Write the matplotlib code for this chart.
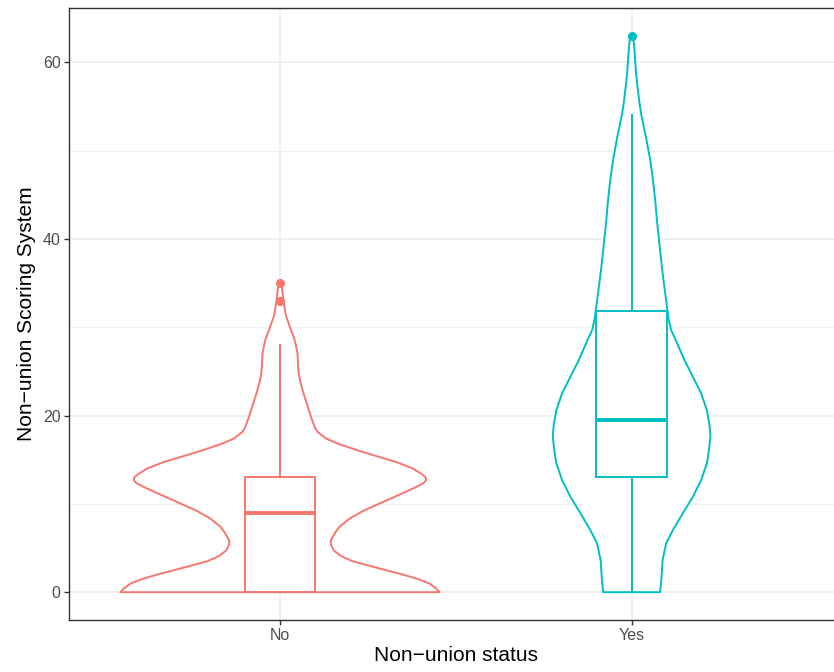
import matplotlib
matplotlib.use("Agg")
import matplotlib.pyplot as plt

plt.rcParams['font.family'] = ['Liberation Sans', 'DejaVu Sans']

groups = ['No', 'Yes']
colors = ['#F8766D', '#00BFC4']

# violin outlines: score levels and half-widths (x units)
no_y = [0, 0.42, 0.98, 1.43, 2.0, 2.49, 2.98, 3.5, 4.08, 4.75, 5.2, 5.58, 5.9,
        6.26, 6.8, 7.4, 8.34, 9.2, 10.04, 10.87, 11.74, 12.05, 12.3, 12.55,
        12.75, 13.0, 13.3, 13.6, 14.0, 14.75, 15.3, 16.0, 16.75, 17.1, 17.4,
        17.8, 18.15, 18.6, 19.1, 20.0, 21.0, 22.0, 22.9, 23.8, 24.8, 26.0, 27.0,
        28.0, 28.8, 29.8, 30.5, 31.3, 32.2, 33.0, 34.0, 35.0]
no_hw = [0.454, 0.444, 0.425, 0.397, 0.349, 0.302, 0.255, 0.207, 0.174, 0.152,
         0.147, 0.144, 0.145, 0.15, 0.158, 0.169, 0.198, 0.236, 0.283, 0.33,
         0.378, 0.394, 0.406, 0.413, 0.416, 0.414, 0.406, 0.394, 0.378, 0.33,
         0.283, 0.226, 0.169, 0.148, 0.131, 0.118, 0.107, 0.100, 0.095, 0.087,
         0.079, 0.071, 0.064, 0.058, 0.053, 0.051, 0.050, 0.045, 0.040, 0.030,
         0.024, 0.017, 0.013, 0.010, 0.007, 0.004]

yes_y = [0, 1.7, 3.6, 5.5, 7.0, 8.9, 10.8, 12.7, 14.6, 15.5, 16.45, 17.6, 18.3,
         19.1, 20.6, 22.5, 24.4, 26.3, 28.5, 29.7, 31.0, 32.5, 34.6, 36.5, 38.3,
         40.2, 42.1, 44.0, 45.9, 47.5, 48.9, 50.2, 51.5, 52.8, 54.2, 55.5, 56.5,
         57.8, 59.1, 60.3, 61.4, 62.3, 63.0]
yes_hw = [0.081, 0.085, 0.088, 0.098, 0.117, 0.145, 0.174, 0.198, 0.214, 0.218,
          0.221, 0.224, 0.223, 0.221, 0.214, 0.198, 0.174, 0.150, 0.126, 0.112,
          0.105, 0.100, 0.093, 0.087, 0.082, 0.077, 0.072, 0.068, 0.063, 0.058,
          0.053, 0.047, 0.041, 0.034, 0.027, 0.022, 0.019, 0.015, 0.012, 0.010,
          0.008, 0.006, 0.004]

# box summaries
q1 = [0, 13]
median = [9, 19.5]
q3 = [13, 31.8]
whisker_low = [0, 0]
whisker_high = [28, 54]
outliers = [[33, 35], [63]]

fig = plt.figure(figsize=(8.34, 6.72), dpi=100)
ax = fig.add_axes([69 / 834, 52 / 672, (842.6 - 69) / 834, (620 - 8) / 672])

profiles = [(no_y, no_hw), (yes_y, yes_hw)]
for i, ((ys, hws), col) in enumerate(zip(profiles, colors)):
    pos = i + 1
    xs = [pos - w for w in hws] + [pos + w for w in hws[::-1]]
    yy = list(ys) + list(ys[::-1])
    ax.fill(xs, yy, facecolor='white', edgecolor=col, lw=1.4, zorder=2,
            joinstyle='round')

stats = []
for i in range(2):
    stats.append(dict(q1=q1[i], med=median[i], q3=q3[i], whislo=whisker_low[i],
                      whishi=whisker_high[i], fliers=outliers[i]))
for i, col in enumerate(colors):
    ax.bxp([stats[i]], positions=[i + 1], widths=0.2, patch_artist=True,
           showcaps=False, manage_ticks=False, zorder=3,
           boxprops=dict(facecolor='white', edgecolor=col, lw=1.4),
           whiskerprops=dict(color=col, lw=1.4),
           medianprops=dict(color=col, lw=2.8, solid_capstyle='butt'),
           flierprops=dict(marker='o', markerfacecolor=col, markeredgecolor=col,
                           markersize=5.5))

ax.set_xlim(0.4, 2.6)
ax.set_ylim(-3.15, 66.15)
ax.set_xticks([1, 2])
ax.set_xticklabels(groups)
ax.set_yticks([0, 20, 40, 60])
ax.set_yticks([10, 30, 50], minor=True)

ax.grid(True, which='major', color='#EBEBEB', lw=1.1, zorder=0)
ax.grid(True, which='minor', axis='y', color='#EBEBEB', lw=0.55, zorder=0)
ax.set_axisbelow(True)
ax.tick_params(axis='both', which='major', length=3.6, width=1, color='#333333',
               labelcolor='#4D4D4D', labelsize=11.5, pad=2.5)
ax.tick_params(axis='both', which='minor', length=0)
for s in ax.spines.values():
    s.set_color('#333333')
    s.set_linewidth(1)

ax.set_xlabel('Non\u2212union status', fontsize=15, labelpad=2)
ax.set_ylabel('Non\u2212union Scoring System', fontsize=15, labelpad=5)

fig.savefig('out.png', dpi=100)
